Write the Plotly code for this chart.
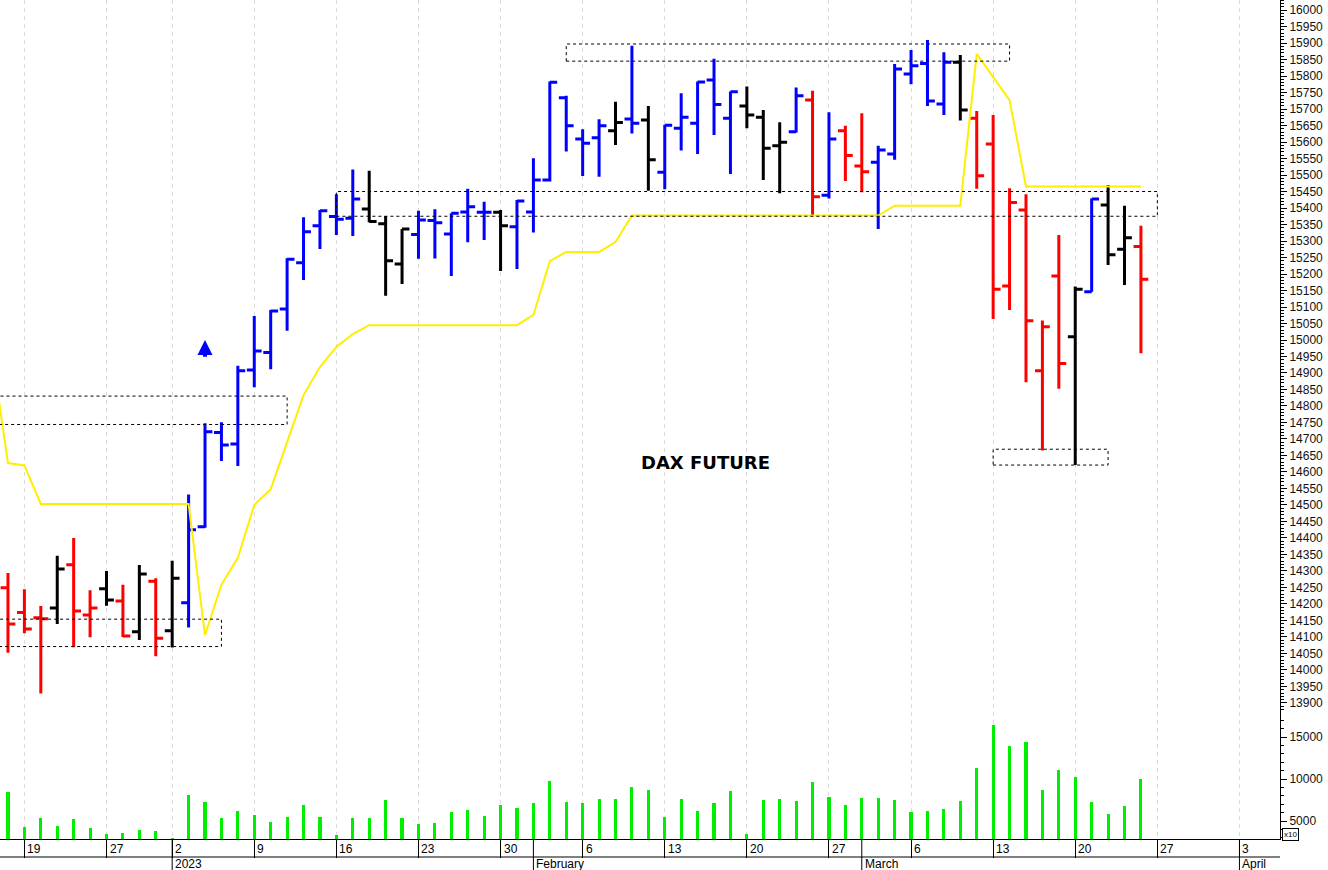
import plotly.graph_objects as go

# ---------------- data ----------------
dates = [
    "2022-12-16", "2022-12-19", "2022-12-20", "2022-12-21", "2022-12-22", "2022-12-23",
    "2022-12-27", "2022-12-28", "2022-12-29", "2022-12-30",
    "2023-01-02", "2023-01-03", "2023-01-04", "2023-01-05", "2023-01-06",
    "2023-01-09", "2023-01-10", "2023-01-11", "2023-01-12", "2023-01-13",
    "2023-01-16", "2023-01-17", "2023-01-18", "2023-01-19", "2023-01-20",
    "2023-01-23", "2023-01-24", "2023-01-25", "2023-01-26", "2023-01-27",
    "2023-01-30", "2023-01-31", "2023-02-01", "2023-02-02", "2023-02-03",
    "2023-02-06", "2023-02-07", "2023-02-08", "2023-02-09", "2023-02-10",
    "2023-02-13", "2023-02-14", "2023-02-15", "2023-02-16", "2023-02-17",
    "2023-02-20", "2023-02-21", "2023-02-22", "2023-02-23", "2023-02-24",
    "2023-02-27", "2023-02-28", "2023-03-01", "2023-03-02", "2023-03-03",
    "2023-03-06", "2023-03-07", "2023-03-08", "2023-03-09", "2023-03-10",
    "2023-03-13", "2023-03-14", "2023-03-15", "2023-03-16", "2023-03-17",
    "2023-03-20", "2023-03-21", "2023-03-22", "2023-03-23", "2023-03-24",
]
lead_dates = ["2022-12-14", "2022-12-15"]
future_dates = ["2023-03-27", "2023-03-28", "2023-03-29", "2023-03-30", "2023-03-31",
                "2023-04-03", "2023-04-04", "2023-04-05"]

opens = [14249, 14174, 14158, 14188, 14319, 14167, 14246, 14209, 14116, 14269,
         14119, 14204, 14434, 14720, 14685, 14909, 14962, 15094, 15234, 15346,
         15374, 15369, 15397, 15352, 15230, 15320, 15362, 15321, 15388, 15387,
         15387, 15343, 15388, 15485, 15734, 15609, 15613, 15634, 15670, 15667,
         15508, 15642, 15657, 15788, 15672, 15709, 15675, 15589, 15631, 15727,
         15439, 15634, 15527, 15539, 15564, 15806, 15838, 15715, 15842, 15672,
         15594, 15164, 15394, 14907, 15194, 15010, 15146, 15409, 15275, 15283]
highs = [14294, 14245, 14194, 14346, 14400, 14242, 14300, 14258, 14318, 14278,
         14331, 14532, 14748, 14751, 14922, 15073, 15091, 15248, 15372, 15394,
         15442, 15517, 15513, 15376, 15336, 15392, 15396, 15384, 15458, 15419,
         15394, 15424, 15551, 15783, 15740, 15639, 15669, 15722, 15892, 15709,
         15652, 15748, 15783, 15852, 15753, 15768, 15697, 15660, 15765, 15755,
         15690, 15649, 15687, 15589, 15836, 15879, 15909, 15872, 15864, 15694,
         15682, 15460, 15442, 15059, 15318, 15162, 15429, 15470, 15407, 15346]
lows = [14052, 14111, 13929, 14139, 14069, 14099, 14195, 14100, 14091, 14042,
        14068, 14129, 14431, 14633, 14618, 14857, 14911, 15028, 15182, 15276,
        15318, 15315, 15357, 15134, 15170, 15246, 15247, 15194, 15296, 15303,
        15209, 15215, 15326, 15480, 15571, 15497, 15495, 15591, 15626, 15452,
        15457, 15574, 15564, 15621, 15503, 15642, 15485, 15445, 15629, 15379,
        15429, 15482, 15448, 15336, 15546, 15775, 15709, 15682, 15665, 15458,
        15064, 15091, 14872, 14665, 14852, 14621, 15146, 15227, 15167, 14960]
closes = [14139, 14124, 14155, 14306, 14179, 14188, 14212, 14103, 14291, 14096,
          14278, 14425, 14722, 14682, 14907, 14967, 15088, 15245, 15328, 15392,
          15366, 15427, 15359, 15240, 15336, 15364, 15355, 15384, 15404, 15387,
          15346, 15421, 15485, 15781, 15649, 15596, 15649, 15659, 15657, 15546,
          15651, 15675, 15782, 15714, 15752, 15682, 15581, 15599, 15740, 15434,
          15609, 15559, 15510, 15576, 15821, 15831, 15724, 15842, 15697, 15498,
          15154, 15417, 15058, 15040, 14929, 15154, 15427, 15258, 15310, 15184]
# bar colour code: r = red, k = black, b = blue
trend = ["r", "r", "r", "k", "r", "r", "k", "r", "k", "r",
         "k", "b", "b", "b", "b", "b", "b", "b", "b", "b",
         "b", "b", "k", "k", "k", "b", "b", "b", "b", "b",
         "k", "b", "b", "b", "b", "b", "b", "k", "b", "k",
         "b", "b", "b", "b", "b", "k", "k", "k", "b", "r",
         "b", "r", "r", "b", "b", "b", "b", "b", "k", "r",
         "r", "r", "r", "r", "r", "k", "b", "k", "k", "r"]
volumes = [8400, 4300, 5350, 4400, 5250, 4200, 3400, 3550, 3950, 3850,
           3000, 8100, 7300, 5350, 6200, 5700, 4850, 5500, 6850, 5450,
           3300, 5350, 5350, 7550, 5350, 4650, 4750, 6050, 6300, 5600,
           6950, 6500, 7100, 9800, 7300, 7100, 7600, 7600, 9000, 8700,
           5450, 7600, 6150, 7100, 8550, 3450, 7500, 7600, 7400, 9700,
           7800, 6950, 7700, 7700, 7500, 6050, 6250, 6450, 7400, 11350,
           16400, 13950, 14450, 8750, 11050, 10250, 7300, 5800, 6800, 10050]

stop_dates = ["2022-12-15"] + dates
stop_values = [14970, 14627, 14620, 14503, 14503, 14503, 14503, 14503, 14503, 14503,
               14503, 14503, 14503, 14106, 14258, 14340, 14500, 14548, 14688, 14833,
               14918, 14979, 15018, 15045, 15045, 15045, 15045, 15045, 15045, 15045,
               15045, 15045, 15045, 15076, 15239, 15267, 15267, 15267, 15297, 15377,
               15377, 15377, 15377, 15377, 15377, 15377, 15377, 15377, 15377, 15377,
               15377, 15377, 15377, 15377, 15377, 15407, 15407, 15407, 15407, 15407,
               15867, 15797, 15727, 15465, 15465, 15465, 15465, 15465, 15465, 15465,
               15465]

# zones: start date, end date, low, high
zones = [
    ("2022-12-14", "2023-01-11", 14744, 14830),
    ("2022-12-14", "2023-01-05", 14071, 14154),
    ("2023-01-16", "2023-03-27", 15375, 15450),
    ("2023-02-03", "2023-03-14", 15845, 15897),
    ("2023-03-13", "2023-03-22", 14621, 14669),
]
signal_date = "2023-01-04"
signal_tip, signal_tail = 15000, 14945

week_ticks = ["2022-12-19", "2022-12-27", "2023-01-02", "2023-01-09", "2023-01-16",
              "2023-01-23", "2023-01-30", "2023-02-06", "2023-02-13", "2023-02-20",
              "2023-02-27", "2023-03-06", "2023-03-13", "2023-03-20", "2023-03-27",
              "2023-04-03"]
week_labels = ["19", "27", "2", "9", "16", "23", "30", "6", "13", "20", "27", "6",
               "13", "20", "27", "3"]
month_starts = ["2023-01-02", "2023-02-01", "2023-03-01", "2023-04-03"]
month_labels = ["2023", "February", "March", "April"]

price_ticks = list(range(13900, 16001, 50))
price_labels = [str(v) for v in price_ticks]
volume_ticks = [5000, 10000, 15000]
volume_labels = ["5000", "10000", "15000"]

# --------------- helpers ----------------
calendar = lead_dates + dates + future_dates
pos = {d: i - len(lead_dates) for i, d in enumerate(calendar)}
xs = [pos[d] for d in dates]

W, H = 1328, 870
ML, MR, MT, MB = 0, 48, 0, 31
plot_h = H - MT - MB
split = 127 / plot_h  # volume pane share

FONT = "Liberation Sans"
colors = {"r": "#ff0000", "k": "#000000", "b": "#0000ff"}

fig = go.Figure()

# OHLC bars, one trace per colour
for code, col in colors.items():
    idx = [i for i, t in enumerate(trend) if t == code]
    fig.add_trace(go.Ohlc(
        x=[xs[i] for i in idx],
        open=[opens[i] for i in idx], high=[highs[i] for i in idx],
        low=[lows[i] for i in idx], close=[closes[i] for i in idx],
        increasing=dict(line=dict(color=col, width=3)),
        decreasing=dict(line=dict(color=col, width=3)),
        tickwidth=0.45, xaxis="x2", yaxis="y", hoverinfo="skip", showlegend=False,
    ))

# yellow stop line
fig.add_trace(go.Scatter(
    x=[pos[d] for d in stop_dates], y=stop_values, mode="lines",
    line=dict(color="#ffee00", width=2), xaxis="x2", yaxis="y",
    hoverinfo="skip", showlegend=False,
))

# volume
fig.add_trace(go.Bar(
    x=xs, y=volumes, width=0.19, marker=dict(color="#00ee00", line=dict(width=0)),
    xaxis="x", yaxis="y2", hoverinfo="skip", showlegend=False,
))

shapes = []
for d0, d1, lo, hi in zones:
    shapes.append(dict(type="rect", xref="x2", yref="y", x0=pos[d0], x1=pos[d1],
                       y0=lo, y1=hi, line=dict(color="black", width=1, dash="3px,3px"),
                       layer="above"))

def py(pix):
    return (plot_h - pix) / plot_h

# bottom date rows
shapes.append(dict(type="line", xref="paper", yref="paper", x0=0, x1=1,
                   y0=py(857), y1=py(857), line=dict(color="black", width=1)))
for d in month_starts:
    shapes.append(dict(type="line", xref="x", yref="paper", x0=pos[d], x1=pos[d],
                       y0=py(839), y1=py(870), line=dict(color="black", width=1)))

annotations = []
for d, t in zip(week_ticks, week_labels):
    annotations.append(dict(x=pos[d], y=py(848.5), xref="x", yref="paper", text=t,
                            showarrow=False, xanchor="left", yanchor="middle", xshift=1,
                            font=dict(family=FONT, size=12, color="black")))
for d, t in zip(month_starts, month_labels):
    annotations.append(dict(x=pos[d], y=py(864), xref="x", yref="paper", text=t,
                            showarrow=False, xanchor="left", yanchor="middle", xshift=1,
                            font=dict(family=FONT, size=12, color="black")))

annotations.append(dict(x=42.5, y=14630, xref="x2", yref="y", text="<b>DAX FUTURE</b>",
                        showarrow=False, xanchor="center", yanchor="middle",
                        font=dict(family="DejaVu Sans", size=18, color="black")))
annotations.append(dict(x=pos[signal_date], y=signal_tip, xref="x2", yref="y", text="",
                        showarrow=True, ax=pos[signal_date], ay=signal_tail,
                        axref="x2", ayref="y", arrowhead=2, arrowsize=0.75,
                        arrowwidth=4, arrowcolor="#0000ff", standoff=0))
annotations.append(dict(x=1, y=py(834), xref="paper", yref="paper", text="x10",
                        showarrow=False, xanchor="left", yanchor="middle", xshift=2,
                        font=dict(family=FONT, size=8, color="black"),
                        bordercolor="black", borderwidth=1, borderpad=1, bgcolor="white"))

xr = [-0.486, 77.47]
tickx = [pos[d] for d in week_ticks]
grid = dict(showgrid=True, gridcolor="#dadada", griddash="4px,4px", gridwidth=1)

fig.update_layout(
    width=W, height=H, margin=dict(l=ML, r=MR, t=MT, b=MB),
    plot_bgcolor="white", paper_bgcolor="white",
    font=dict(family=FONT, size=12, color="black"),
    showlegend=False, shapes=shapes, annotations=annotations, bargap=0,
    xaxis=dict(domain=[0, 1], anchor="y2", range=xr, tickmode="array", tickvals=tickx,
               showticklabels=False, ticks="outside", ticklen=18, tickcolor="black",
               showline=True, linecolor="black", linewidth=1, zeroline=False,
               rangeslider=dict(visible=False), automargin=False, **grid),
    xaxis2=dict(domain=[0, 1], anchor="y", matches="x", range=xr, tickmode="array",
                tickvals=tickx, showticklabels=False, ticks="", zeroline=False,
                showline=False, rangeslider=dict(visible=False), automargin=False, **grid),
    yaxis=dict(domain=[split, 1], anchor="x2", side="right", range=[13872.7, 16030.3],
               tickmode="array", tickvals=price_ticks, ticktext=price_labels,
               ticks="outside", ticklen=6,
               tickcolor="black", showline=True, linecolor="black", linewidth=1,
               showgrid=False, zeroline=False, automargin=False,
               tickfont=dict(family=FONT, size=12, color="#111111"),
               minor=dict(dtick=10, tick0=0, ticks="outside", ticklen=3, tickcolor="black",
                          showgrid=False)),
    yaxis2=dict(domain=[0, split], anchor="x", side="right", range=[2857, 17976],
                tickmode="array", tickvals=volume_ticks, ticktext=volume_labels,
                ticks="outside", ticklen=6,
                tickcolor="black", showline=True, linecolor="black", linewidth=1,
                showgrid=False, zeroline=False, automargin=False,
                tickfont=dict(family=FONT, size=12, color="#111111"),
                minor=dict(dtick=1000, tick0=0, ticks="outside", ticklen=3,
                           tickcolor="black", showgrid=False)),
)

fig.write_html("out.html", config={"displayModeBar": False},
               post_script="document.body.style.margin='0';document.body.style.overflow='hidden';")
